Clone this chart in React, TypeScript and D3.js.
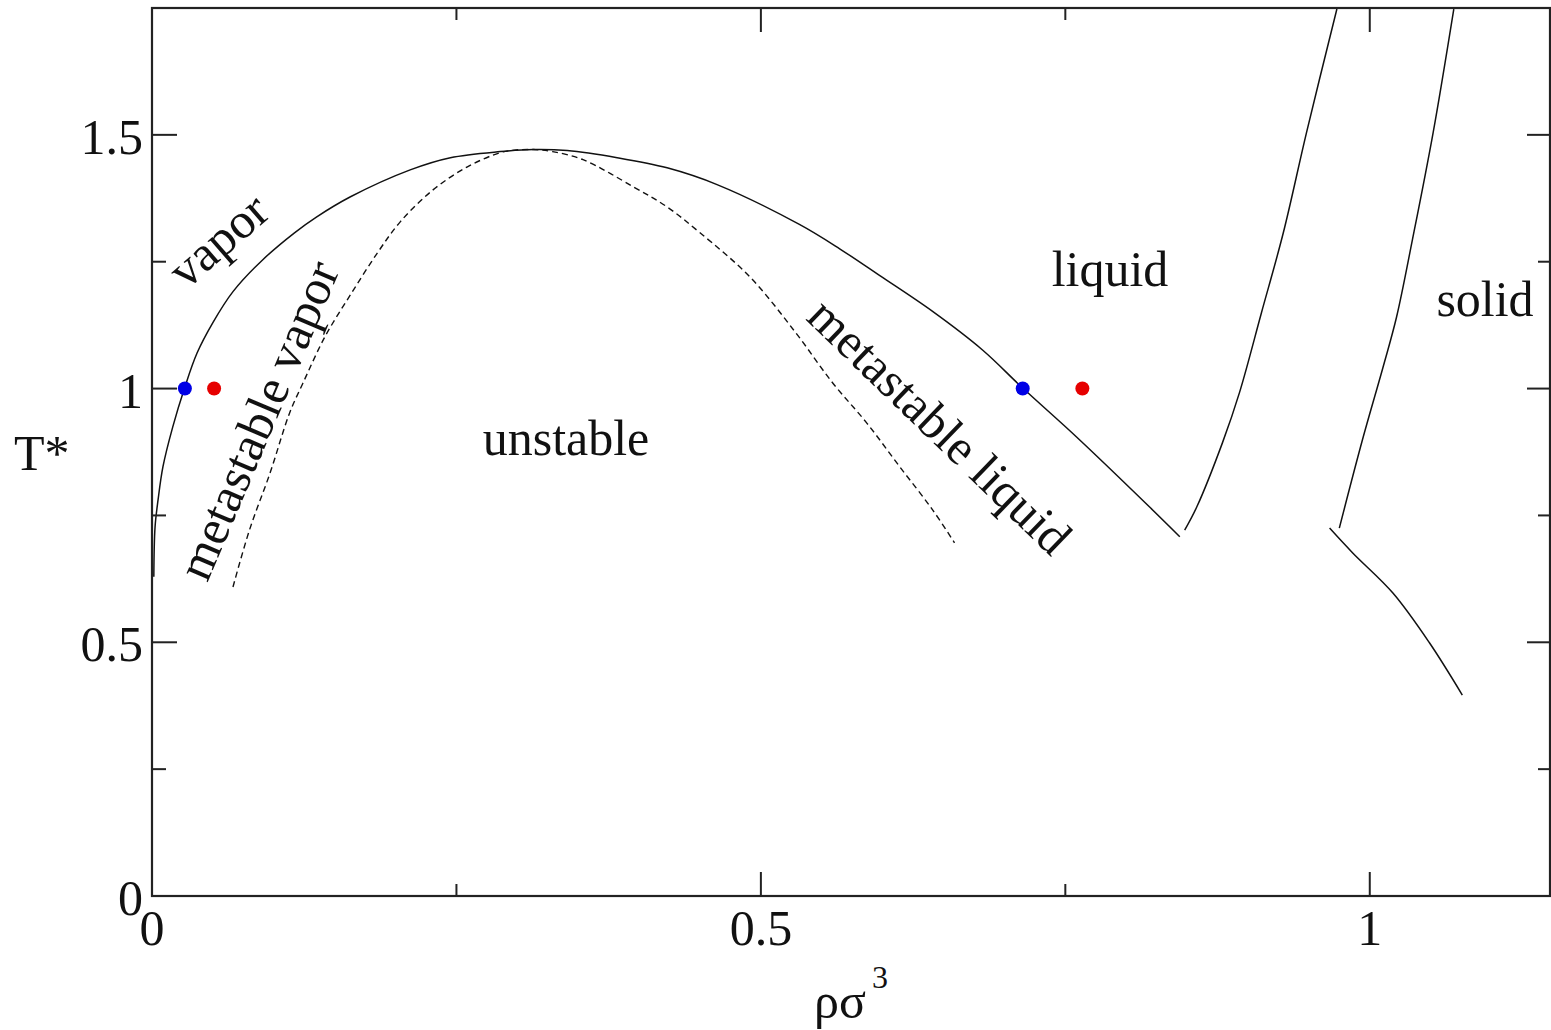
import React from 'react';
import * as d3 from 'd3';

// digitized phase diagram (rho sigma^3 vs T*)
const binodalRho = [0.0015, 0.0025, 0.005, 0.009, 0.017, 0.027, 0.037, 0.05, 0.0665, 0.091, 0.117, 0.135, 0.163, 0.212, 0.245, 0.286, 0.313, 0.341, 0.382, 0.423, 0.464, 0.532, 0.565, 0.598, 0.641, 0.682, 0.715, 0.759, 0.819, 0.844];
const binodalT = [0.629, 0.727, 0.781, 0.846, 0.924, 1.003, 1.07, 1.13, 1.191, 1.254, 1.307, 1.338, 1.378, 1.431, 1.455, 1.467, 1.471, 1.469, 1.455, 1.435, 1.402, 1.323, 1.275, 1.222, 1.152, 1.076, 1.001, 0.905, 0.767, 0.708];

const spinodalRho = [0.0665, 0.08, 0.097, 0.113, 0.124, 0.142, 0.163, 0.185, 0.204, 0.231, 0.259, 0.286, 0.298, 0.313, 0.329, 0.354, 0.395, 0.423, 0.45, 0.491, 0.528, 0.559, 0.587, 0.614, 0.641, 0.659];
const spinodalT = [0.609, 0.721, 0.834, 0.952, 1.011, 1.102, 1.185, 1.267, 1.329, 1.392, 1.437, 1.465, 1.47, 1.471, 1.467, 1.451, 1.398, 1.358, 1.307, 1.22, 1.112, 1.011, 0.932, 0.846, 0.761, 0.696];

const freezeRho = [0.848, 0.858, 0.879, 0.893, 0.911, 0.929, 0.948, 0.973];
const freezeT = [0.721, 0.767, 0.893, 0.992, 1.149, 1.307, 1.504, 1.748];

const meltRho = [0.975, 0.994, 1.011, 1.022, 1.035, 1.052, 1.069];
const meltT = [0.725, 0.899, 1.043, 1.141, 1.293, 1.504, 1.748];

const solidRho = [0.967, 0.986, 1.019, 1.049, 1.076];
const solidT = [0.725, 0.676, 0.597, 0.499, 0.396];

const blueRho = [0.027, 0.715];
const redRho = [0.051, 0.764];
const pointT = 1.0;

const xMajor = [0, 0.5, 1];
const xMinor = [0.25, 0.75];
const yMajor = [0, 0.5, 1, 1.5];
const yMinor = [0.25, 0.75, 1.25];
const xTickLabels = ['0', '0.5', '1'];
const yTickLabels = ['0', '0.5', '1', '1.5'];

const W = 1551;
const H = 1030;
const font = '"Liberation Serif", "Times New Roman", serif';

function App() {
    const x = d3.scaleLinear().domain([0, 1.148]).range([152, 1550]);
    const y = d3.scaleLinear().domain([0, 1.75]).range([896, 8]);

    const line = d3.line<[number, number]>()
        .x(d => x(d[0]))
        .y(d => y(d[1]))
        .curve(d3.curveCatmullRom);

    const zip = (a: number[], b: number[]) => a.map((v, i) => [v, b[i]] as [number, number]);

    const [x0, x1] = x.range();
    const [y0, y1] = y.range();

    return (
        <svg width={W} height={H} style={{ position: 'absolute', left: 0, top: 0, background: '#fff' }}>
            <defs>
                <clipPath id="plot">
                    <rect x={x0} y={y1} width={x1 - x0} height={y0 - y1} />
                </clipPath>
            </defs>

            <g clipPath="url(#plot)" fill="none" stroke="#111" strokeWidth={1.5}>
                <path d={line(zip(binodalRho, binodalT)) || ''} />
                <path d={line(zip(spinodalRho, spinodalT)) || ''} strokeDasharray="6 4" strokeWidth={1.4} />
                <path d={line(zip(freezeRho, freezeT)) || ''} />
                <path d={line(zip(meltRho, meltT)) || ''} />
                <path d={line(zip(solidRho, solidT)) || ''} />
            </g>

            {blueRho.map((r, i) => (
                <circle key={'b' + i} cx={x(r)} cy={y(pointT)} r={7} fill="#0000e6" />
            ))}
            {redRho.map((r, i) => (
                <circle key={'r' + i} cx={x(r)} cy={y(pointT)} r={7} fill="#e60000" />
            ))}

            {/* frame */}
            <rect x={x0} y={y1} width={x1 - x0} height={y0 - y1} fill="none" stroke="#222" strokeWidth={2.2} />

            {/* ticks, inside on all four sides */}
            <g stroke="#222" strokeWidth={2}>
                {xMajor.map(v => (
                    <g key={'xM' + v}>
                        <line x1={x(v)} x2={x(v)} y1={y0} y2={y0 - 24} />
                        <line x1={x(v)} x2={x(v)} y1={y1} y2={y1 + 24} />
                    </g>
                ))}
                {xMinor.map(v => (
                    <g key={'xm' + v}>
                        <line x1={x(v)} x2={x(v)} y1={y0} y2={y0 - 12} />
                        <line x1={x(v)} x2={x(v)} y1={y1} y2={y1 + 12} />
                    </g>
                ))}
                {yMajor.map(v => (
                    <g key={'yM' + v}>
                        <line x1={x0} x2={x0 + 25} y1={y(v)} y2={y(v)} />
                        <line x1={x1} x2={x1 - 23} y1={y(v)} y2={y(v)} />
                    </g>
                ))}
                {yMinor.map(v => (
                    <g key={'ym' + v}>
                        <line x1={x0} x2={x0 + 14} y1={y(v)} y2={y(v)} />
                        <line x1={x1} x2={x1 - 12} y1={y(v)} y2={y(v)} />
                    </g>
                ))}
            </g>

            <g fontFamily={font} fontSize={50} fill="#111">
                {xMajor.map((v, i) => (
                    <text key={'xl' + v} x={x(v)} y={y0 + 49} textAnchor="middle">{xTickLabels[i]}</text>
                ))}
                {yMajor.map((v, i) => (
                    <text key={'yl' + v} x={x0 - 9} y={y(v) + 19} textAnchor="end">{yTickLabels[i]}</text>
                ))}

                <text x={14} y={470}>T*</text>
                <text x={814} y={1018}>ρσ<tspan fontSize={32} dy={-30} dx={6}>3</tspan></text>

                {/* region labels */}
                <text x={566} y={455} textAnchor="middle">unstable</text>
                <text x={1110} y={286} textAnchor="middle">liquid</text>
                <text x={1485} y={316} textAnchor="middle">solid</text>
                <text transform="translate(218,240) rotate(-41)" textAnchor="middle" dominantBaseline="central">vapor</text>
                <text transform="translate(258,420) rotate(-67)" textAnchor="middle" dominantBaseline="central">metastable vapor</text>
                <text transform="translate(940,426) rotate(44)" textAnchor="middle" dominantBaseline="central">metastable liquid</text>
            </g>
        </svg>
    );
}

export default App;
